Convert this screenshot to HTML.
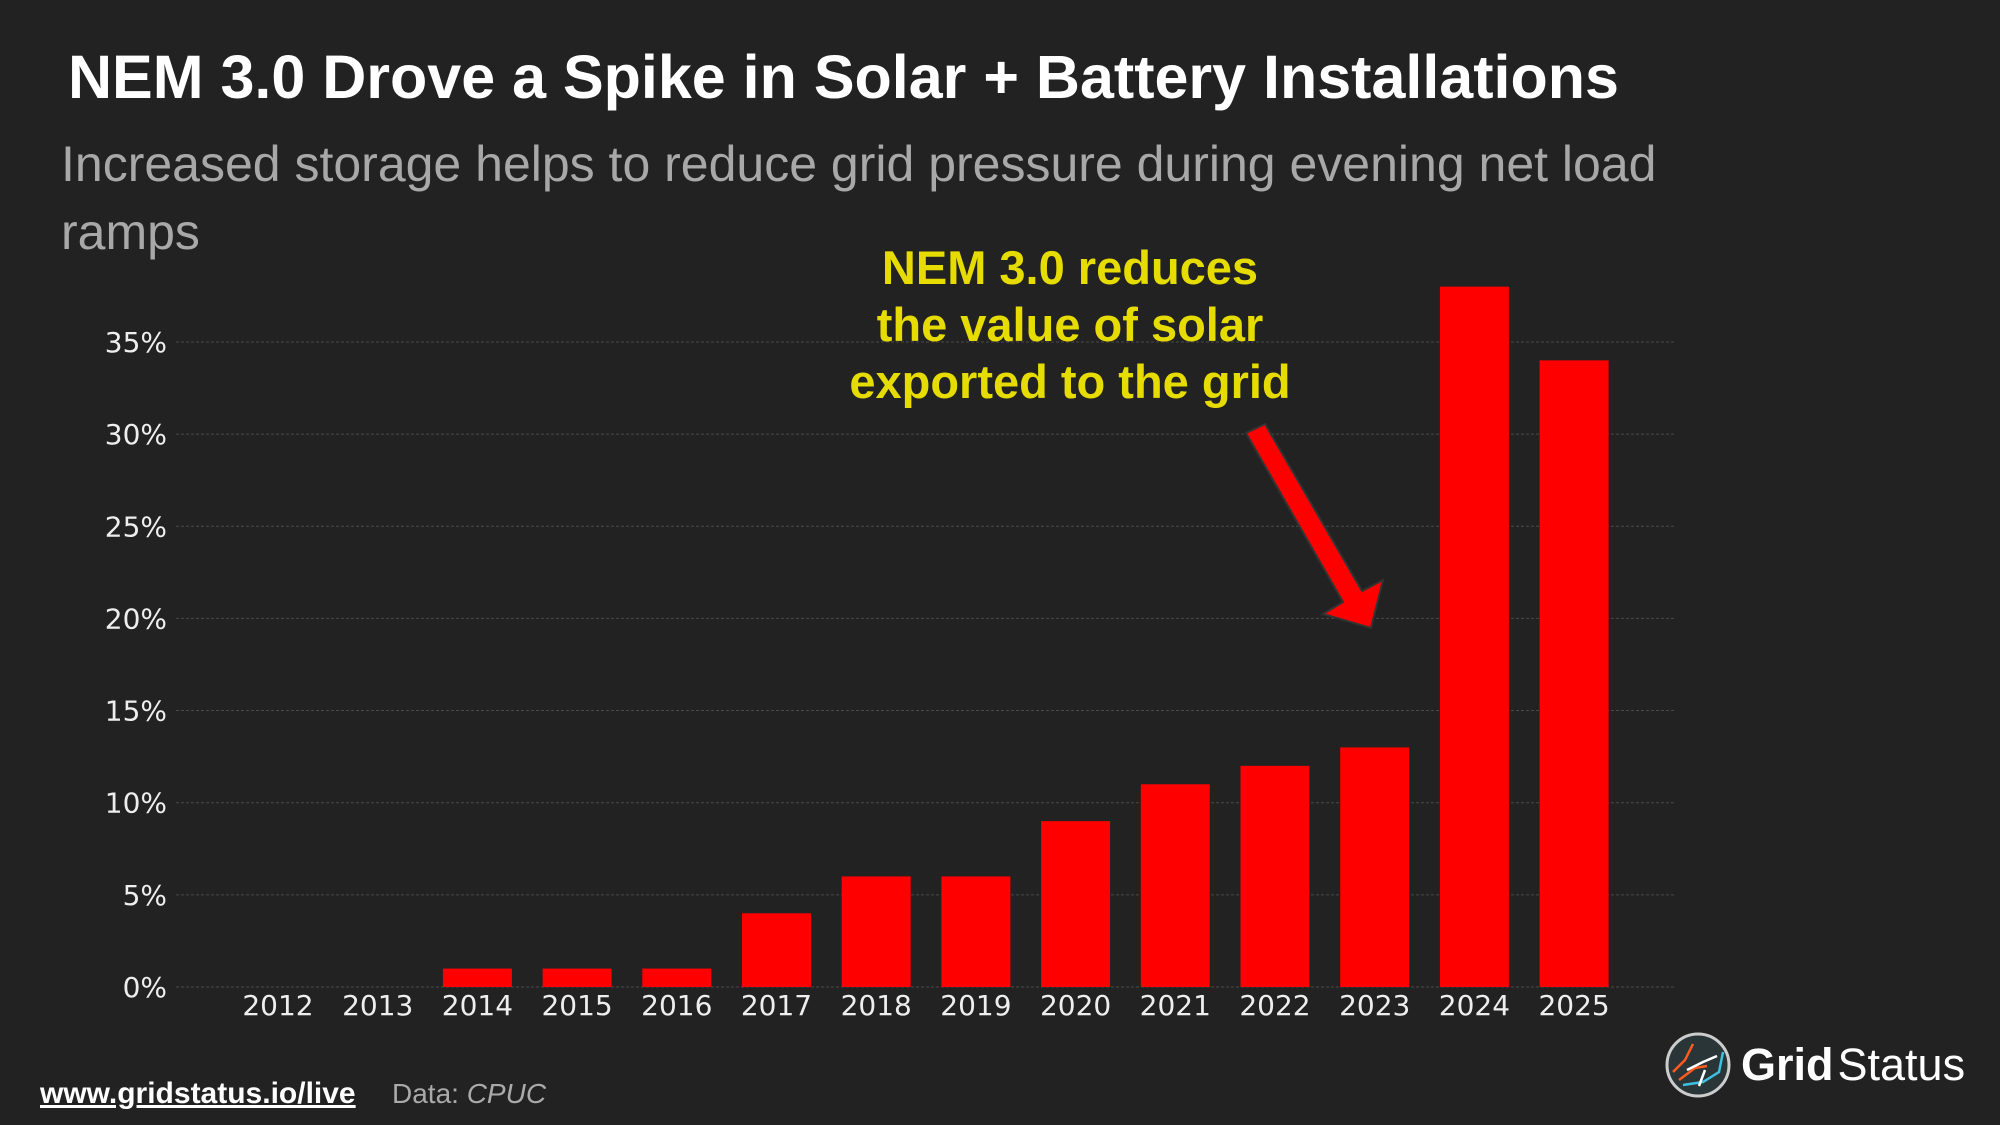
<!DOCTYPE html>
<html><head><meta charset="utf-8"><style>
html,body{margin:0;padding:0;background:#222222;}
#root{position:relative;width:2000px;height:1125px;background:#222222;overflow:hidden;font-family:"Liberation Sans",sans-serif;}
.t{position:absolute;white-space:nowrap;}
</style></head><body>
<div id="root">
<div class="t" style="left:68px;top:42px;font-size:61px;font-weight:bold;color:#fff;">NEM 3.0 Drove a Spike in Solar + Battery Installations</div>
<div class="t" style="left:61px;top:130px;font-size:50px;color:#a8a8a8;line-height:68px;">Increased storage helps to reduce grid pressure during evening net load<br>ramps</div>
<svg id="chart" width="2000" height="1125" style="position:absolute;left:0;top:0">
<g id="grid"></g><g id="bars"></g><g id="yt"></g><g id="xt"></g>
<text x="1070" fill="#e6dc00" font-family="Liberation Sans, sans-serif" font-weight="bold" font-size="47" text-anchor="middle"><tspan x="1070" y="284">NEM 3.0 reduces</tspan><tspan x="1070" y="341">the value of solar</tspan><tspan x="1070" y="398">exported to the grid</tspan></text>
<polygon points="1246,433 1265,424 1362,591 1383,580 1371,628 1323,614 1343,602" fill="#ff0000" stroke="#333" stroke-width="2"/>
</svg>
<div class="t" style="left:40px;top:1077px;font-size:30px;font-weight:bold;color:#fff;text-decoration:underline;">www.gridstatus.io/live</div>
<div class="t" style="left:392px;top:1078px;font-size:28px;color:#aaa;">Data: <i>CPUC</i></div>
<svg width="70" height="70" style="position:absolute;left:1663px;top:1030px">
<circle cx="35" cy="35" r="31" fill="#2a3538" stroke="#ccc" stroke-width="3"/>
<path d="M10 42 L22 30 L30 14 M16 50 L32 38 L44 36" stroke="#ff5a1f" stroke-width="2.5" fill="none"/>
<path d="M20 55 L40 52 L56 42 L60 22" stroke="#3ec1e0" stroke-width="2.5" fill="none"/>
<path d="M24 40 L40 32 L54 26 M42 40 L36 56" stroke="#fff" stroke-width="2.5" fill="none"/>
</svg>
<div class="t" style="left:1741px;top:1039px;font-size:45px;color:#fff;"><b>Grid</b><span style="margin-left:4px">Status</span></div>
</div>
<script>
const categories=["2012","2013","2014","2015","2016","2017","2018","2019","2020","2021","2022","2023","2024","2025"];
const values=[0,0,1,1,1,4,6,6,9,11,12,13,38,34];
const yTicks=[0,5,10,15,20,25,30,35];
const NS="http://www.w3.org/2000/svg";
const y0=987, pxPer=18.43, x0=278, step=99.7, bw=69, gl=176, gr=1676;
const yS=v=>y0-v*pxPer, xS=i=>x0+i*step;
function mk(t,a,p){const e=document.createElementNS(NS,t);for(const k in a)e.setAttribute(k,a[k]);p.appendChild(e);return e;}
const G=document.getElementById('grid'),B=document.getElementById('bars'),YT=document.getElementById('yt'),XT=document.getElementById('xt');
yTicks.forEach(v=>{
 const l=mk('line',{x1:gl,x2:gr,y1:yS(v),y2:yS(v),stroke:'#4a4a4a','stroke-width':1,'stroke-dasharray':'3,2'},G);
 
 
 const t=mk('text',{x:167,y:yS(v)+10,fill:'#eee','font-size':28,'text-anchor':'end','font-family':'DejaVu Sans, sans-serif'},YT);
 t.textContent=v+'%';
 
 
});
categories.forEach((c,i)=>{
 const v=values[i];
 if(v>0){const r=mk('rect',{x:xS(i)-bw/2,y:yS(v),width:bw,height:y0-yS(v),fill:'#ff0000'},B);
 
 }
 const t=mk('text',{x:xS(i),y:1015,fill:'#eee','font-size':28,'text-anchor':'middle','font-family':'DejaVu Sans, sans-serif'},XT);
 t.textContent=c;
 
 
});
</script>
</body></html>
